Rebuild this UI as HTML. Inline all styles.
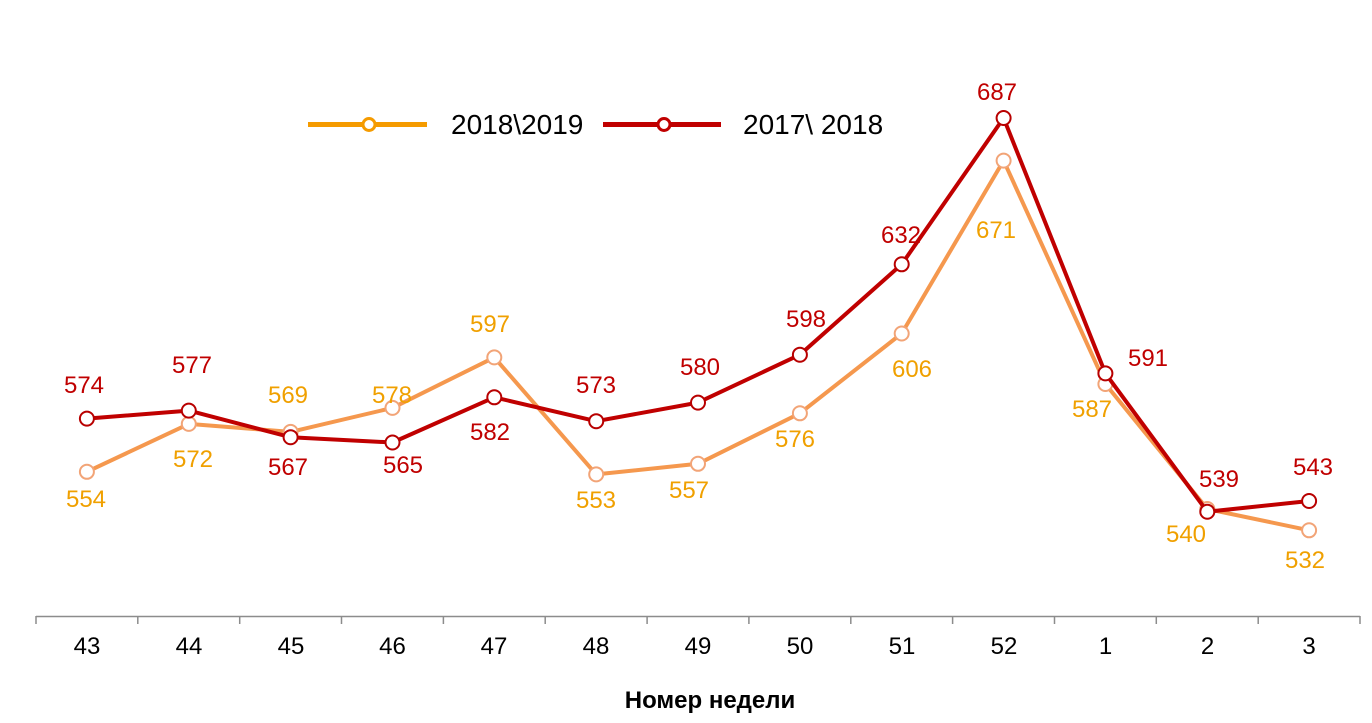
<!DOCTYPE html>
<html>
<head>
<meta charset="utf-8">
<style>
html,body{margin:0;padding:0;background:#fff;}
svg{display:block;}
text{font-family:"Liberation Sans",Arial,sans-serif;}
</style>
</head>
<body>
<svg width="1372" height="723" viewBox="0 0 1372 723" xmlns="http://www.w3.org/2000/svg">
<rect width="1372" height="723" fill="#fff"/>
<!-- axis -->
<g stroke="#8c8c8c" stroke-width="1.5" fill="none">
<line x1="36" y1="616.5" x2="1360" y2="616.5"/>
<line x1="36" y1="616" x2="36" y2="624"/>
<line x1="137.8" y1="616" x2="137.8" y2="624"/>
<line x1="239.7" y1="616" x2="239.7" y2="624"/>
<line x1="341.5" y1="616" x2="341.5" y2="624"/>
<line x1="443.4" y1="616" x2="443.4" y2="624"/>
<line x1="545.2" y1="616" x2="545.2" y2="624"/>
<line x1="647.1" y1="616" x2="647.1" y2="624"/>
<line x1="748.9" y1="616" x2="748.9" y2="624"/>
<line x1="850.8" y1="616" x2="850.8" y2="624"/>
<line x1="952.6" y1="616" x2="952.6" y2="624"/>
<line x1="1054.5" y1="616" x2="1054.5" y2="624"/>
<line x1="1156.3" y1="616" x2="1156.3" y2="624"/>
<line x1="1258.2" y1="616" x2="1258.2" y2="624"/>
<line x1="1360" y1="616" x2="1360" y2="624"/>
</g>
<g font-size="24" fill="#000" text-anchor="middle">
<text x="87" y="654">43</text>
<text x="189" y="654">44</text>
<text x="291" y="654">45</text>
<text x="392.5" y="654">46</text>
<text x="494" y="654">47</text>
<text x="596" y="654">48</text>
<text x="698" y="654">49</text>
<text x="800" y="654">50</text>
<text x="902" y="654">51</text>
<text x="1004" y="654">52</text>
<text x="1105.5" y="654">1</text>
<text x="1207.5" y="654">2</text>
<text x="1309" y="654">3</text>
</g>
<text x="710" y="708" font-size="24" font-weight="bold" text-anchor="middle" fill="#000">Номер недели</text>

<!-- legend -->
<line x1="308" y1="124.5" x2="427" y2="124.5" stroke="#F59B00" stroke-width="5"/>
<circle cx="369" cy="124.5" r="6" fill="#fff" stroke="#F59B00" stroke-width="3"/>
<text x="451" y="134" font-size="28" fill="#000">2018\2019</text>
<line x1="603" y1="124.5" x2="721" y2="124.5" stroke="#C00000" stroke-width="5"/>
<circle cx="664" cy="124.5" r="6" fill="#fff" stroke="#C00000" stroke-width="3"/>
<text x="743" y="134" font-size="28" fill="#000">2017\ 2018</text>

<!-- orange series -->
<polyline fill="none" stroke="#F5984E" stroke-width="4" stroke-linejoin="round"
points="86.9,471.8 188.8,423.9 290.6,431.9 392.5,407.9 494.3,357.4 596.2,474.4 698,463.8 799.9,413.3 901.7,333.5 1003.6,160.6 1105.4,384 1207.3,509 1309.1,530.3"/>
<g fill="#fff" stroke="#F2A477" stroke-width="2">
<circle cx="86.9" cy="471.8" r="7"/>
<circle cx="188.8" cy="423.9" r="7"/>
<circle cx="290.6" cy="431.9" r="7"/>
<circle cx="392.5" cy="407.9" r="7"/>
<circle cx="494.3" cy="357.4" r="7"/>
<circle cx="596.2" cy="474.4" r="7"/>
<circle cx="698" cy="463.8" r="7"/>
<circle cx="799.9" cy="413.3" r="7"/>
<circle cx="901.7" cy="333.5" r="7"/>
<circle cx="1003.6" cy="160.6" r="7"/>
<circle cx="1105.4" cy="384" r="7"/>
<circle cx="1207.3" cy="509" r="7"/>
<circle cx="1309.1" cy="530.3" r="7"/>
</g>

<!-- red series -->
<polyline fill="none" stroke="#C00000" stroke-width="4" stroke-linejoin="round"
points="86.9,418.6 188.8,410.6 290.6,437.2 392.5,442.5 494.3,397.3 596.2,421.2 698,402.6 799.9,354.7 901.7,264.3 1003.6,118 1105.4,373.4 1207.3,511.7 1309.1,501"/>
<g fill="#fff" stroke="#B80000" stroke-width="2">
<circle cx="86.9" cy="418.6" r="7"/>
<circle cx="188.8" cy="410.6" r="7"/>
<circle cx="290.6" cy="437.2" r="7"/>
<circle cx="392.5" cy="442.5" r="7"/>
<circle cx="494.3" cy="397.3" r="7"/>
<circle cx="596.2" cy="421.2" r="7"/>
<circle cx="698" cy="402.6" r="7"/>
<circle cx="799.9" cy="354.7" r="7"/>
<circle cx="901.7" cy="264.3" r="7"/>
<circle cx="1003.6" cy="118" r="7"/>
<circle cx="1105.4" cy="373.4" r="7"/>
<circle cx="1207.3" cy="511.7" r="7"/>
<circle cx="1309.1" cy="501" r="7"/>
</g>

<!-- orange labels -->
<g font-size="24" fill="#F0A000" text-anchor="middle">
<text x="86" y="507">554</text>
<text x="193" y="467">572</text>
<text x="288" y="403">569</text>
<text x="392" y="403">578</text>
<text x="490" y="332">597</text>
<text x="596" y="508">553</text>
<text x="689" y="498">557</text>
<text x="795" y="447">576</text>
<text x="912" y="377">606</text>
<text x="996" y="238">671</text>
<text x="1092" y="417">587</text>
<text x="1186" y="542">540</text>
<text x="1305" y="568">532</text>
</g>
<!-- red labels -->
<g font-size="24" fill="#C00000" text-anchor="middle">
<text x="84" y="393">574</text>
<text x="192" y="373">577</text>
<text x="288" y="475">567</text>
<text x="403" y="473">565</text>
<text x="490" y="440">582</text>
<text x="596" y="393">573</text>
<text x="700" y="375">580</text>
<text x="806" y="327">598</text>
<text x="901" y="243">632</text>
<text x="997" y="100">687</text>
<text x="1148" y="366">591</text>
<text x="1219" y="487">539</text>
<text x="1313" y="475">543</text>
</g>
</svg>
</body>
</html>
